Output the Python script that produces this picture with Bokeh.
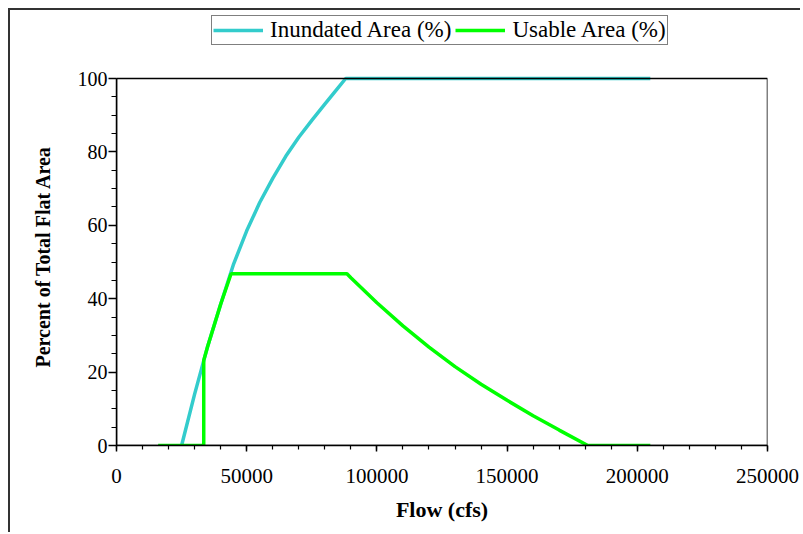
from bokeh.plotting import figure
from bokeh.models import (Range1d, SingleIntervalTicker, BasicTickFormatter,
                          Legend, LegendItem, BoxAnnotation, Title)
from bokeh.embed import file_html
from bokeh.resources import INLINE

# ---- data ----
inund_flow = [25000, 30000, 35000, 40000, 45000, 50000, 55000, 60000, 65000,
              70000, 75000, 80000, 85000, 88000, 205000]
inund_pct = [0, 14, 27, 38.5, 49.5, 58.5, 66.2, 72.8, 78.8, 84, 88.6, 93, 97.4,
             100, 100]

usable_flow = [16000, 33500, 33500, 35000, 40000, 44000, 88500, 90000, 100000,
               110000, 120000, 130000, 140000, 150000, 160000, 170000, 181000, 205000]
usable_pct = [0, 0, 23.2, 27, 38.5, 46.8, 46.8, 45.7, 38.9, 32.6, 26.8, 21.5,
              16.7, 12.3, 8.1, 4.2, 0, 0]

x_min, x_max = 0, 250000
y_min, y_max = 0, 100
x_title = "Flow (cfs)"
y_title = "Percent of Total Flat Area"
series_names = ["Inundated Area (%)", "Usable Area (%)"]

FONT = "Liberation Serif"

# frame extends above 100 so the legend can sit inside it (unclipped)
top_extra = y_max * (435 / 367)
p = figure(width=800, height=532, output_backend="svg", toolbar_location=None,
           x_range=Range1d(x_min, x_max), y_range=Range1d(y_min, top_extra),
           min_border_left=116, min_border_right=33, min_border_top=10,
           min_border_bottom=87)
# outer frame lines (top and left) drawn as inset shadows on the host
p.styles = {"box-shadow": "inset 8px 8px 0 0 white, inset 10px 10px 0 0 #333333",
            "background-color": "white"}

p.xgrid.visible = False
p.ygrid.visible = False
p.outline_line_color = None
p.background_fill_color = "white"
p.border_fill_alpha = 0

# plot-area box (0..250000 x 0..100)
p.add_layout(BoxAnnotation(left=x_min, right=x_max, bottom=y_min, top=y_max,
                           fill_alpha=0, line_color="black", line_width=1.5,
                           line_alpha=1.0))

r1 = p.line(inund_flow, inund_pct, line_color="#33CCCC", line_width=3.5)
r2 = p.line(usable_flow, usable_pct, line_color="#00FF00", line_width=3.5)

# axes
p.xaxis.ticker = SingleIntervalTicker(interval=50000, num_minor_ticks=5)
p.xaxis.formatter = BasicTickFormatter(use_scientific=False)
p.yaxis.ticker = SingleIntervalTicker(interval=20, num_minor_ticks=4)
p.yaxis.bounds = (y_min, y_max)

for ax in (p.xaxis[0], p.yaxis[0]):
    ax.axis_line_color = "black"
    ax.axis_line_width = 1.5
    ax.major_tick_line_color = "black"
    ax.minor_tick_line_color = "black"
    ax.major_tick_line_width = 1.5
    ax.minor_tick_line_width = 1.2
    ax.major_tick_in = 0
    ax.minor_tick_in = 0
    ax.major_label_text_font = FONT
    ax.major_label_text_color = "black"
    ax.axis_label_text_font = FONT
    ax.axis_label_text_font_style = "bold"
    ax.axis_label_text_color = "black"

p.xaxis.major_tick_out = 6
p.xaxis.minor_tick_out = 4
p.xaxis.major_label_text_font_size = "21px"
p.xaxis.major_label_standoff = 17
p.xaxis.axis_label = x_title
p.xaxis.axis_label_text_font_size = "22px"
p.xaxis.axis_label_standoff = 11

p.yaxis.major_tick_out = 8
p.yaxis.minor_tick_out = 5
p.yaxis.major_label_text_font_size = "20px"
p.yaxis.major_label_standoff = 1

# y-axis title, centred on the 0..100 box rather than on the (taller) frame
p.add_layout(Title(text=y_title, align="left", offset=78, text_font=FONT,
                   text_font_size="20px", text_font_style="bold",
                   text_color="black", standoff=42), "left")

legend = Legend(items=[LegendItem(label=series_names[0], renderers=[r1]),
                       LegendItem(label=series_names[1], renderers=[r2])],
                orientation="horizontal", location=(95, 400),
                label_text_font=FONT, label_text_font_size="23px",
                label_text_color="black",
                glyph_width=50, glyph_height=18, label_standoff=7, spacing=4,
                padding=1, margin=0,
                border_line_color="black", border_line_width=1,
                background_fill_color="white")
p.add_layout(legend, "center")

open("out.html", "w").write(file_html(p, INLINE))
